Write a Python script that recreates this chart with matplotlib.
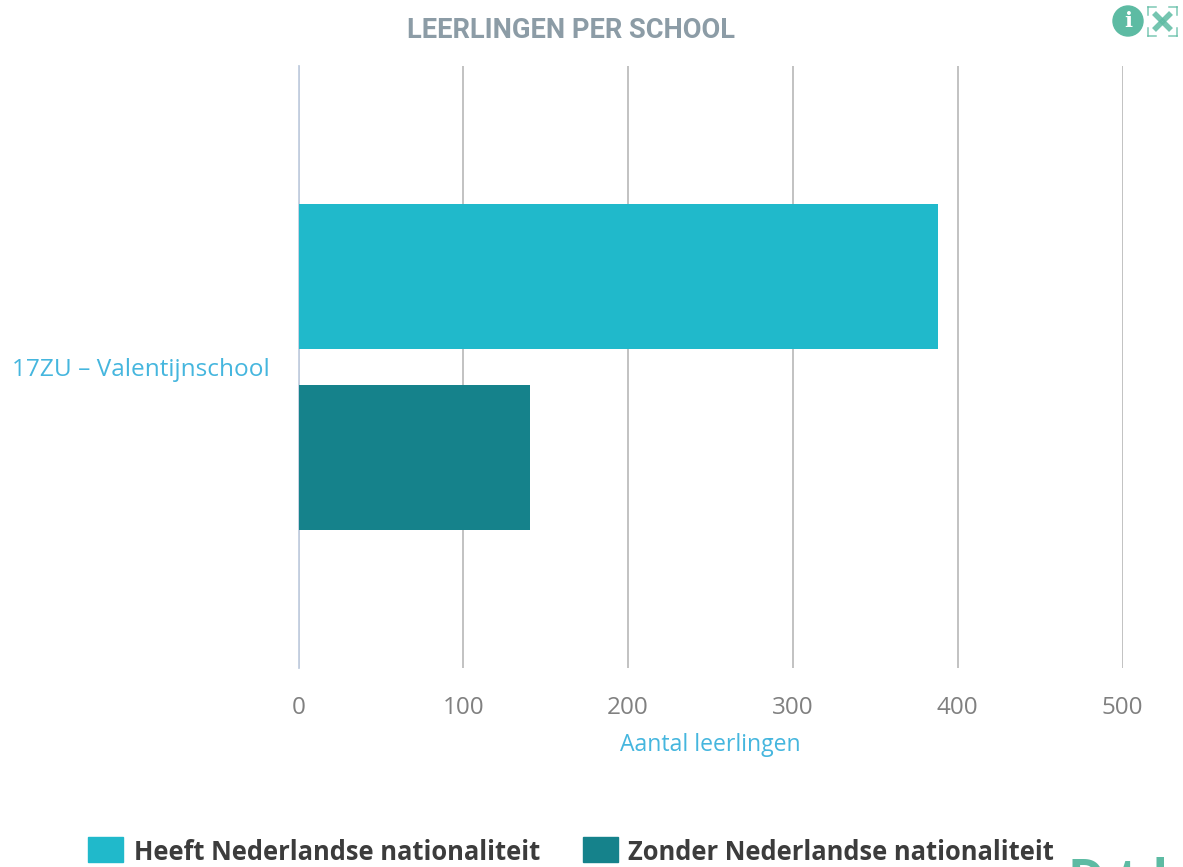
import matplotlib
matplotlib.use("Agg")
import matplotlib.pyplot as plt
from matplotlib.patches import Rectangle, Circle

W, H = 1183, 867
schools = ["17ZU – Valentijnschool"]
series_names = ["Heeft Nederlandse nationaliteit", "Zonder Nederlandse nationaliteit"]
with_nl = [388]
without_nl = [140.5]
xticks = [0, 100, 200, 300, 400, 500]
title = "LEERLINGEN PER SCHOOL"
xlabel = "Aantal leerlingen"
c1, c2 = "#20b9cb", "#15828b"
blue = "#45b6de"

fig = plt.figure(figsize=(W/100, H/100), dpi=100, facecolor="white")
L, R, T, B = 298.5, 1122.5, 66, 668
ax = fig.add_axes([L/W, 1-B/H, (R-L)/W, (B-T)/H])
ax.set_xlim(0, 500)
ax.set_ylim(-0.5, 0.5)
ax.invert_yaxis()
ax.barh(-0.151, with_nl[0], height=0.241, color=c1, zorder=3)
ax.barh(0.151, without_nl[0], height=0.241, color=c2, zorder=3)
ax.set_xticks(xticks)
ax.set_yticks([0])
ax.set_yticklabels(schools, fontfamily="Open Sans", fontsize=17.6, color=blue)
ax.tick_params(axis="y", length=0, pad=21)
ax.tick_params(axis="x", length=0, pad=20, labelsize=17.5, labelcolor="#808080")
for t in ax.get_xticklabels():
    t.set_fontfamily("Open Sans")
ax.grid(axis="x", color="#bdbdbd", lw=1.3, zorder=0)
for s in ["top", "right", "bottom"]:
    ax.spines[s].set_visible(False)
ax.spines["left"].set_color("#c3cfe0")
ax.spines["left"].set_linewidth(1.3)
ax.set_xlabel("")

def T_(x, y, s, **kw):
    fig.text(x/W, 1-y/H, s, va="center", **kw)

T_(571, 31, title, ha="center", fontfamily="Roboto", fontweight="bold", fontsize=19.6, color="#8c9ca6")
T_(710, 745, xlabel, ha="center", fontfamily="Open Sans", fontsize=16.6, color=blue)

for x0, w, c, tx, name in [(88, 35, c1, 134, series_names[0]), (583, 35, c2, 628, series_names[1])]:
    fig.patches.append(Rectangle((x0/W, 1-862/H), w/W, 25/H, transform=fig.transFigure, color=c))
    T_(tx, 853, name, ha="left", fontfamily="Open Sans", fontweight="bold", fontsize=18.4, color="#3c3c3c")

# Info and expand icons
green = "#5dbba3"
bg = fig.add_axes([0, 0, 1, 1], zorder=5)
bg.set_xlim(0, W)
bg.set_ylim(H, 0)
bg.axis("off")
bg.add_patch(Circle((1128, 21), 15, color=green))
bg.text(1128, 21, "i", ha="center", va="center", color="white", fontfamily="DejaVu Serif", fontweight="bold", fontsize=15)
for (x, y, dx, dy) in [(1148, 7, 1, 1), (1177, 7, -1, 1), (1148, 36, 1, -1), (1177, 36, -1, -1)]:
    bg.plot([x, x+dx*8], [y, y], color=green, lw=1.1, alpha=0.8)
    bg.plot([x, x], [y, y+dy*8], color=green, lw=1.1, alpha=0.8)
    bg.plot([x+dx*6, x+dx*14.5], [y+dy*6, y+dy*14.5], color=green, lw=4, alpha=0.85, solid_capstyle="butt")

# Clipped logo text at the bottom edge
bg.text(1068, 895, "D t l", ha="left", va="baseline", color=green, fontfamily="Open Sans", fontweight="bold", fontsize=36, clip_on=True)

fig.savefig("out.png", dpi=100)
